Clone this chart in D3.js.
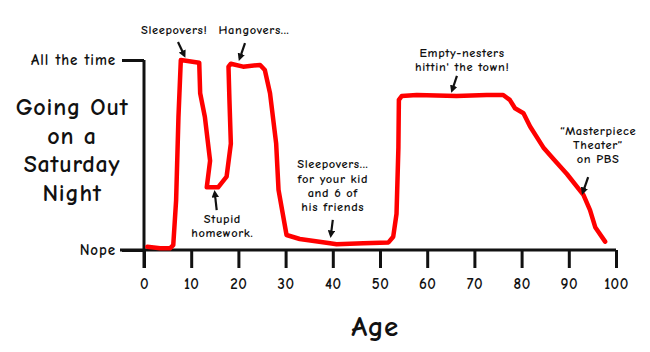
<!DOCTYPE html>
<html>
<head>
<meta charset="utf-8">
<script src="https://cdn.jsdelivr.net/npm/d3@7"></script>
<style>
  html, body { margin: 0; padding: 0; background: #ffffff; }
  svg { display: block; }
  text { font-family: "Comic Sans MS", "Comic Neue", "Open Sans", sans-serif; fill: #111; }
</style>
</head>
<body>
<svg id="chart" width="650" height="352"></svg>
<script>
// ---- data ----
const ages   = [0.7, 3.4, 5.5, 6.2, 6.8, 7.3, 7.8, 11.7, 11.9, 12.9, 14.0, 13.3, 15.7, 17.5, 18.4, 18.1, 17.9, 18.4, 21.0, 24.6, 25.6, 26.7, 28.0, 28.5, 30.2, 33.0, 39.4, 40.8, 46.5, 51.8, 52.8, 53.5, 53.9, 54.0, 54.6, 57.8, 66.2, 72.6, 76.1, 77.5, 78.6, 80.4, 81.8, 84.6, 86.7, 89.6, 93.1, 94.5, 95.6, 97.7];
const levels = [1.7, 0.9, 0.9, 2.6, 26, 70, 100, 98.6, 82.5, 70, 47, 33, 33, 38.6, 56, 79, 96.5, 98, 96.5, 97.4, 94.7, 82.5, 56, 31.6, 7.9, 5.8, 3.5, 3, 3.5, 4, 7, 19, 54, 79, 81, 81.6, 81, 81.6, 81.6, 79, 74.6, 72, 65, 54, 48, 40, 29, 21, 12, 4.4];
const xTicks = [0, 10, 20, 30, 40, 50, 60, 70, 80, 90, 100];
const yTickValues = [0, 100];
const yTickLabels = ["Nope", "All the time"];
const yTitle = ["Going Out", "on a", "Saturday", "Night"];
const xTitle = "Age";
// annotations: text lines, text anchor (age, level), arrow tail & tip (age, level)
const noteTexts  = [["Sleepovers!"], ["Hangovers..."], ["Stupid", "homework."], ["Sleepovers...", "for your kid", "and 6 of", "his friends"], ["Empty-nesters", "hittin' the town!"], ["\u201CMasterpiece", "Theater\u201D", "on PBS"]];
const noteAnchor = [[6.4, 113.5], [23.3, 113.5], [16.6, 14.3], [40.0, 43.0], [67.4, 101.5], [96.2, 60.5]];
const arrowTail  = [[7.2, 109.5], [21.4, 108.9], [15.4, 21.0], [40.0, 15.8], [66.3, 91.6], [94.1, 38.4]];
const arrowTip   = [[8.5, 102.6], [20.3, 101.0], [15.0, 30.0], [39.6, 7.9], [65.3, 84.2], [93.0, 30.5]];

// ---- chart ----
const FONT = '"Comic Sans MS", "Comic Neue", "Open Sans", sans-serif';
const svg = d3.select("#chart");
const x = d3.scaleLinear().domain([0, 100]).range([144, 616]);
const y = d3.scaleLinear().domain([0, 100]).range([250, 60]);

// arrow marker
svg.append("defs").append("marker")
  .attr("id", "ah").attr("viewBox", "0 0 10 10").attr("refX", 6).attr("refY", 5)
  .attr("markerWidth", 3.4).attr("markerHeight", 3.4).attr("orient", "auto")
  .attr("markerUnits", "strokeWidth")
  .append("path").attr("d", "M0,0 L10,5 L0,10 Z").attr("fill", "#111");

// x axis
const xAxis = svg.append("g").attr("transform", `translate(0,${y(0)})`)
  .call(d3.axisBottom(x).tickValues(xTicks).tickSize(18).tickSizeOuter(0).tickPadding(10));
xAxis.select(".domain").attr("stroke", "#111").attr("stroke-width", 3)
  .attr("d", `M${x(0) - 24},0H${x(100)}`);
xAxis.selectAll(".tick line").attr("stroke", "#111").attr("stroke-width", 3);
xAxis.selectAll(".tick text").attr("font-size", 15).attr("font-weight", 600)
  .attr("letter-spacing", 0.5).style("font-family", FONT).attr("fill", "#111");

// y axis
const yAxis = svg.append("g").attr("transform", `translate(${x(0)},0)`)
  .call(d3.axisLeft(y).tickValues(yTickValues).tickSize(22).tickSizeOuter(0).tickPadding(6)
    .tickFormat((d, i) => yTickLabels[i]));
yAxis.select(".domain").attr("stroke", "#111").attr("stroke-width", 3)
  .attr("d", `M0,${y(100)}V${y(0) + 18}`);
yAxis.selectAll(".tick line").attr("stroke", "#111").attr("stroke-width", 3);
yAxis.selectAll(".tick text").attr("font-size", 15).attr("font-weight", 600)
  .attr("letter-spacing", 0.9).style("font-family", FONT).attr("fill", "#111");

// axis titles
const yt = svg.append("text").attr("text-anchor", "middle").attr("font-size", 24)
  .attr("font-weight", 600).attr("letter-spacing", 0.8);
yTitle.forEach((t, i) => yt.append("tspan").attr("x", 72).attr("y", 115 + i * 28.5).text(t));
svg.append("text").attr("x", 375).attr("y", 336).attr("text-anchor", "middle")
  .attr("font-size", 29).attr("font-weight", 600).attr("letter-spacing", 0.5).text(xTitle);

// the line
const pts = ages.map((a, i) => [a, levels[i]]);
svg.append("path").datum(pts)
  .attr("fill", "none").attr("stroke", "#ff0000").attr("stroke-width", 4.5)
  .attr("stroke-linejoin", "round").attr("stroke-linecap", "round")
  .attr("d", d3.line().x(d => x(d[0])).y(d => y(d[1])).curve(d3.curveLinear));

// annotations
noteTexts.forEach((lines, i) => {
  const t = svg.append("text").attr("text-anchor", "middle").attr("font-size", 12.5)
    .attr("font-weight", 600).attr("letter-spacing", 0.6);
  lines.forEach((l, j) => t.append("tspan").attr("x", x(noteAnchor[i][0])).attr("y", y(noteAnchor[i][1]) + j * 14.2).text(l));
  svg.append("line")
    .attr("x1", x(arrowTail[i][0])).attr("y1", y(arrowTail[i][1]))
    .attr("x2", x(arrowTip[i][0])).attr("y2", y(arrowTip[i][1]))
    .attr("stroke", "#111").attr("stroke-width", 2.2).attr("marker-end", "url(#ah)");
});
</script>
</body>
</html>
